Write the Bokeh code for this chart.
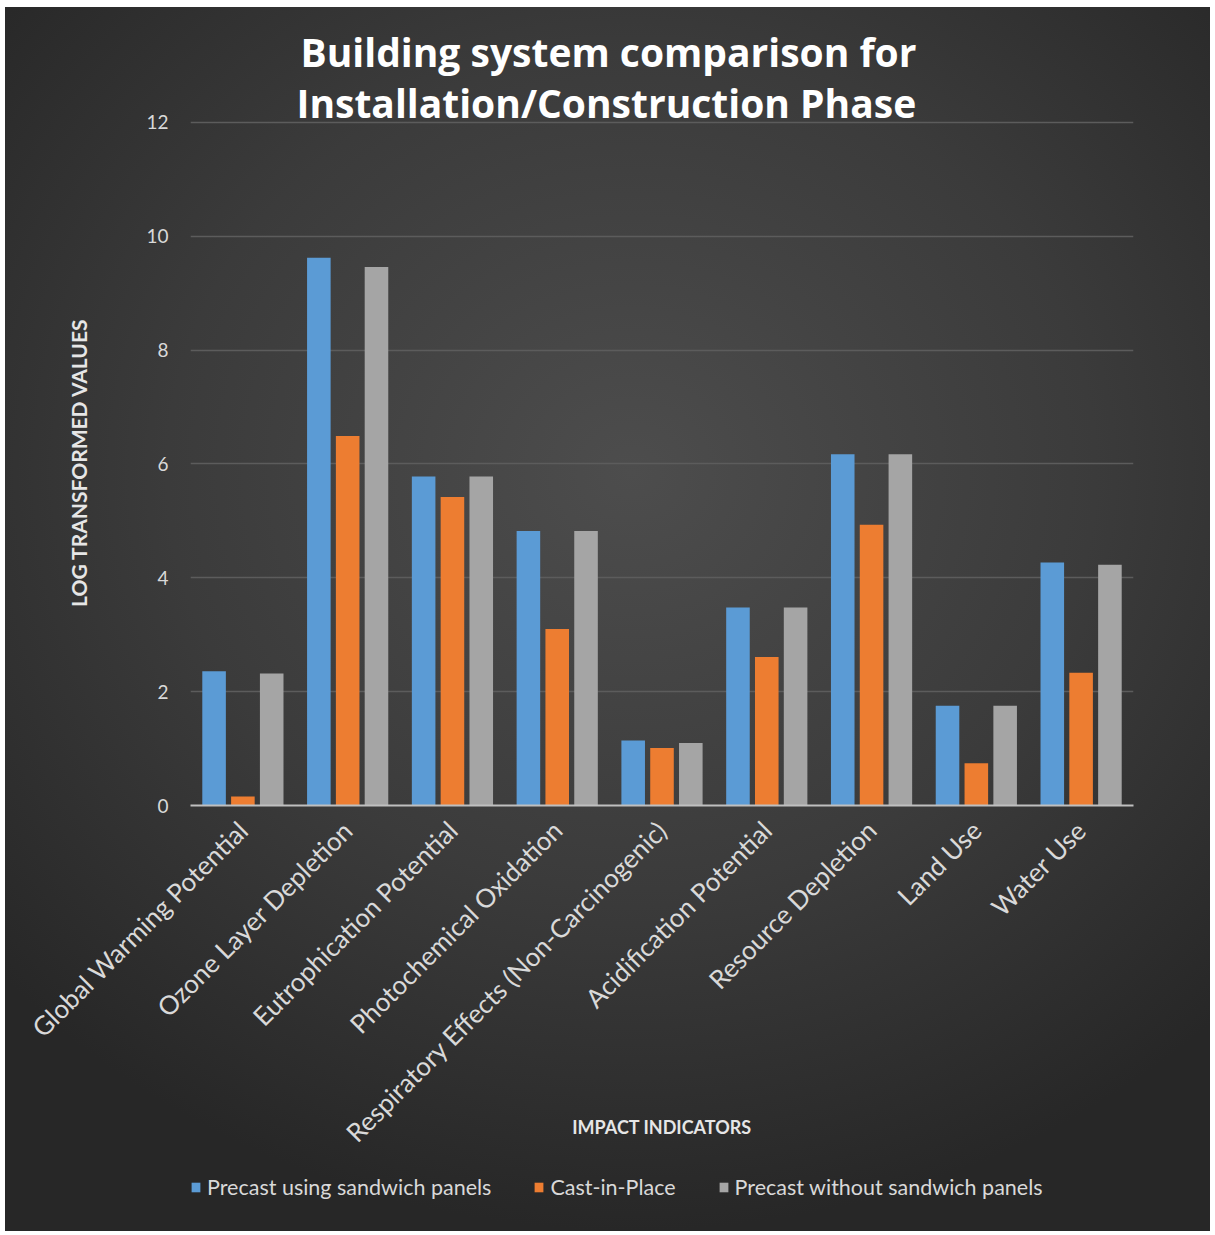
import math
from bokeh.plotting import figure
from bokeh.layouts import column
from bokeh.models import (ColumnDataSource, FactorRange, Range1d, FixedTicker, Title,
                          Legend, LegendItem)
from bokeh.transform import dodge
from bokeh.embed import file_html
from bokeh.resources import INLINE

categories = ["Global Warming Potential", "Ozone Layer Depletion", "Eutrophication Potential",
              "Photochemical Oxidation", "Respiratory Effects (Non-Carcinogenic)",
              "Acidification Potential", "Resource Depletion", "Land Use", "Water Use"]
precast_sandwich = [2.36, 9.62, 5.78, 4.82, 1.14, 3.48, 6.17, 1.75, 4.27]
cast_in_place = [0.16, 6.49, 5.42, 3.10, 1.01, 2.61, 4.93, 0.74, 2.33]
precast_no_sandwich = [2.32, 9.46, 5.78, 4.82, 1.10, 3.48, 6.17, 1.75, 4.23]
series_names = ["Precast using sandwich panels", "Cast-in-Place", "Precast without sandwich panels"]
y_ticks = [0, 2, 4, 6, 8, 10, 12]
title_lines = ["Building system comparison for", "Installation/Construction  Phase"]
y_title = "LOG TRANSFORMED VALUES"
x_title = "IMPACT INDICATORS"

colors = ["#5b9bd5", "#ed7d31", "#a5a5a5"]
offsets = [-0.275, 0.0, 0.275]
FONT = "Lato"

src = ColumnDataSource(dict(cat=categories, a=precast_sandwich, b=cast_in_place, c=precast_no_sandwich))
xr = FactorRange(*categories)

p = figure(x_range=xr, y_range=Range1d(0, 12.05),
           width=1205, height=1160,
           min_border_left=185, min_border_right=77, min_border_top=112, min_border_bottom=362,
           output_backend="svg", toolbar_location=None)
p.border_fill_color = None
p.background_fill_color = None
p.outline_line_color = None

for key, off, col in zip(["a", "b", "c"], offsets, colors):
    p.vbar(x=dodge("cat", off, range=xr), top=key, width=0.225, source=src,
           fill_color=col, line_color=None)

# titles (p.title is the outermost line)
p.title.text = title_lines[0]
p.title.text_font = "Open Sans"
p.title.text_font_style = "bold"
p.title.text_font_size = "39px"
p.title.text_color = "#ffffff"
p.title.align = "left"
p.title.offset = 110
p.title.standoff = 10
t2 = Title(text=title_lines[1], text_font="Open Sans", text_font_style="bold",
           text_font_size="39px", text_color="#ffffff", align="left", offset=106, standoff=-18)
p.add_layout(t2, "above")

# y axis
p.yaxis.ticker = FixedTicker(ticks=y_ticks)
p.yaxis.axis_line_color = None
p.yaxis.major_tick_line_color = None
p.yaxis.minor_tick_line_color = None
p.yaxis.major_label_text_font = FONT
p.yaxis.major_label_text_font_size = "19px"
p.yaxis.major_label_text_color = "#d9d9d9"
p.yaxis.major_label_standoff = 16
p.yaxis.axis_label = y_title
p.yaxis.axis_label_text_font = FONT
p.yaxis.axis_label_text_font_style = "bold"
p.yaxis.axis_label_text_font_size = "21px"
p.yaxis.axis_label_text_color = "#e6e6e6"
p.yaxis.axis_label_standoff = 52

# x axis
p.xaxis.axis_line_color = "#bfbfbf"
p.xaxis.axis_line_width = 2
p.xaxis.major_tick_line_color = None
p.xaxis.minor_tick_line_color = None
p.xaxis.major_label_orientation = math.pi / 4
p.xaxis.major_label_text_font = FONT
p.xaxis.major_label_text_font_size = "26px"
p.xaxis.major_label_text_color = "#d9d9d9"
p.xaxis.major_label_standoff = 14
p.xaxis.axis_label = x_title
p.xaxis.axis_label_text_font = FONT
p.xaxis.axis_label_text_font_style = "bold"
p.xaxis.axis_label_text_font_size = "18px"
p.xaxis.axis_label_text_color = "#e6e6e6"
p.xaxis.axis_label_standoff = -47

p.xgrid.grid_line_color = None
p.ygrid.grid_line_color = "#5c5c5c"
p.ygrid.grid_line_width = 1.5

# legend strip below the chart: hidden key renderers for the same series
lf = figure(x_range=xr, y_range=Range1d(-101, -100), width=1205, height=64,
            min_border=0, output_backend="svg", toolbar_location=None)
lf.border_fill_color = None
lf.background_fill_color = None
lf.outline_line_color = None
lf.axis.visible = False
lf.grid.visible = False
keys = [lf.vbar(x=dodge("cat", off, range=xr), top=key, bottom=key, width=0.225, source=src,
                fill_color=col, line_color=None, visible=False)
        for key, off, col in zip(["a", "b", "c"], offsets, colors)]
legend = Legend(items=[LegendItem(label=n, renderers=[r]) for n, r in zip(series_names, keys)],
                orientation="horizontal", location=(0, 31), click_policy="none",
                label_text_font=FONT, label_text_font_size="21.5px", label_text_color="#d9d9d9",
                glyph_width=11, glyph_height=12, label_standoff=6, spacing=42, padding=0,
                background_fill_alpha=0, border_line_color=None, margin=0)
lf.add_layout(legend)

layout = column(p, lf, spacing=0,
                styles={"background": "radial-gradient(ellipse 70% 62% at 52% 38%, #4d4d4d 0%, #3b3b3b 55%, #272727 100%)",
                        "margin-left": "5px", "margin-top": "7px"})

open("out.html", "w").write(file_html(layout, INLINE))
